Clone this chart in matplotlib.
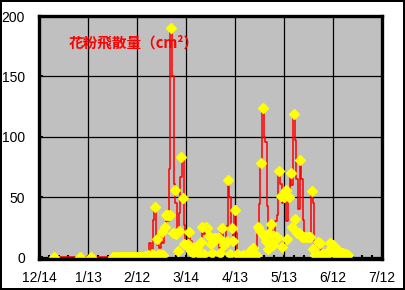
import numpy as np
import pandas as pd
import matplotlib
matplotlib.use("Agg")
import matplotlib.pyplot as plt
import matplotlib.dates as mdates
from matplotlib.ticker import FixedLocator

start = pd.Timestamp("2002-12-14")
end = pd.Timestamp("2003-07-12")

tick_labels = ["12/14", "1/13", "2/12", "3/14", "4/13", "5/13", "6/12", "7/12"]
tick_dates = ["2002-12-14", "2003-01-13", "2003-02-12", "2003-03-14",
              "2003-04-13", "2003-05-13", "2003-06-12", "2003-07-12"]
y_ticks = [0, 50, 100, 150, 200]

# red series: daily values from 2002-12-24 (day 10) to 2003-06-22 (day 189)
red_vals = [
    0, 0, 0, 0, 0, 0, 0, 0, 0, 0,
    0, 0, 0, 0, 0, 0, 0, 0, 0, 0,
    0, 0, 0, 0, 0, 0, 0, 0, 0, 0,
    0, 0, 0, 0, 0, 0, 0, 0, 0, 0,
    0, 0, 0, 0, 0, 0, 0, 0, 0, 0,
    0, 0, 0, 0, 0, 1, 0, 2, 12, 3,
    31, 42, 15, 10, 8, 21, 12, 25, 35, 30,
    73, 190, 150, 61, 45, 20, 37, 67, 83, 27,
    10, 11, 21, 14, 4, 8, 9, 8, 5, 13,
    25, 19, 25, 24, 18, 11, 4, 16, 16, 16,
    16, 8, 24, 10, 12, 26, 64, 50, 24, 18,
    39, 20, 2, 1, 1, 2, 1, 2, 1, 4,
    6, 8, 3, 2, 25, 44, 78, 124, 100, 96,
    43, 20, 28, 20, 18, 30, 35, 72, 61, 45,
    50, 56, 30, 55, 70, 60, 119, 97, 65, 40,
    81, 65, 31, 17, 17, 17, 17, 55, 45, 8,
    2, 13, 12, 3, 3, 3, 3, 3, 12, 8,
    10, 3, 4, 6, 2, 3, 4, 2, 3, 2,
]
red_start = "2002-12-24"

# yellow markers: a few early points, then daily from 2003-01-28 (day 45) to day 189
yellow_early_dates = ["2002-12-23", "2003-01-08", "2003-01-15"]
yellow_early_vals = [0, 0, 0]
yellow_vals = [
    0, 0, 0, 0, 0, 0, 0, 0, 0, 0, 0, 0, 0, 0, 0,
    0, 0, 0, 0, 0, 1, 0, 2, 1, 3,
    2, 42, 15, 2, 3, 21, 2, 25, 35, 35,
    35, 190, 20, 56, 19, 5, 22, 83, 49, 11,
    10, 11, 21, 5, 4, 8, 9, 8, 3, 13,
    25, 3, 25, 24, 18, 11, 4, 16, 16, 16,
    16, 4, 24, 10, 12, 14, 64, 3, 24, 14,
    39, 3, 2, 1, 1, 2, 1, 2, 1, 4,
    6, 8, 3, 2, 25, 22, 78, 124, 18, 14,
    7, 20, 28, 10, 18, 15, 17, 72, 51, 9,
    50, 56, 15, 50, 70, 25, 119, 32, 20, 20,
    81, 17, 17, 17, 17, 17, 17, 55, 7, 2,
    2, 13, 12, 3, 3, 3, 3, 3, 12, 8,
    10, 3, 4, 6, 2, 3, 4, 2, 3, 2,
]
yellow_start = "2003-01-28"

red_dates = pd.date_range(red_start, periods=len(red_vals), freq="D")
yellow_dates = pd.date_range(yellow_start, periods=len(yellow_vals), freq="D")

plt.rcParams["font.family"] = ["Liberation Sans", "DejaVu Sans"]

fig = plt.figure(figsize=(4.05, 2.90), dpi=100)
fig.patch.set_facecolor("white")
fig.patch.set_edgecolor("black")
fig.patch.set_linewidth(1.5)

ax = fig.add_axes([39 / 405, 31 / 290, 343 / 405, 243 / 290])
ax.set_facecolor("#c0c0c0")

ax.plot(red_dates, red_vals, color="#ff0000", lw=1.1, drawstyle="steps-mid", zorder=3)
ax.plot(yellow_dates, yellow_vals, linestyle="none", marker="D", markersize=5,
        color="#ffff00", markeredgecolor="#ffff00", zorder=4)
ax.plot(pd.to_datetime(yellow_early_dates), yellow_early_vals, linestyle="none",
        marker="D", markersize=5, color="#ffff00", markeredgecolor="#ffff00", zorder=4)

ax.set_xlim(mdates.date2num(start), mdates.date2num(end))
ax.set_ylim(-1.3, 200)

major = mdates.date2num(pd.to_datetime(tick_dates))
ax.set_xticks(major)
ax.set_xticklabels(tick_labels)
minor = mdates.date2num(pd.date_range(start, end, freq="6D"))
ax.xaxis.set_minor_locator(FixedLocator(minor))
ax.set_yticks(y_ticks)
ax.set_yticklabels([str(v) for v in y_ticks])

ax.grid(True, which="major", color="black", lw=0.9, zorder=1)
ax.set_axisbelow(True)
ax.tick_params(axis="both", which="major", direction="in", length=3, width=1.5,
               labelsize=10, colors="black")
ax.tick_params(axis="x", which="major", pad=9)
ax.tick_params(axis="y", which="major", pad=10)
ax.tick_params(axis="x", which="minor", direction="in", length=3, width=1.5)
for s in ax.spines.values():
    s.set_linewidth(2.4)
    s.set_color("black")
    s.set_zorder(5)

ax.text(mdates.date2num(pd.Timestamp("2003-01-01")), 178, "花粉飛散量（cm²）",
        color="#ff0000", fontsize=10.5, fontweight="bold",
        family=["Noto Sans CJK JP", "DejaVu Sans"], va="center", ha="left", zorder=6)

fig.savefig("out.png", dpi=100, edgecolor=fig.get_edgecolor())
